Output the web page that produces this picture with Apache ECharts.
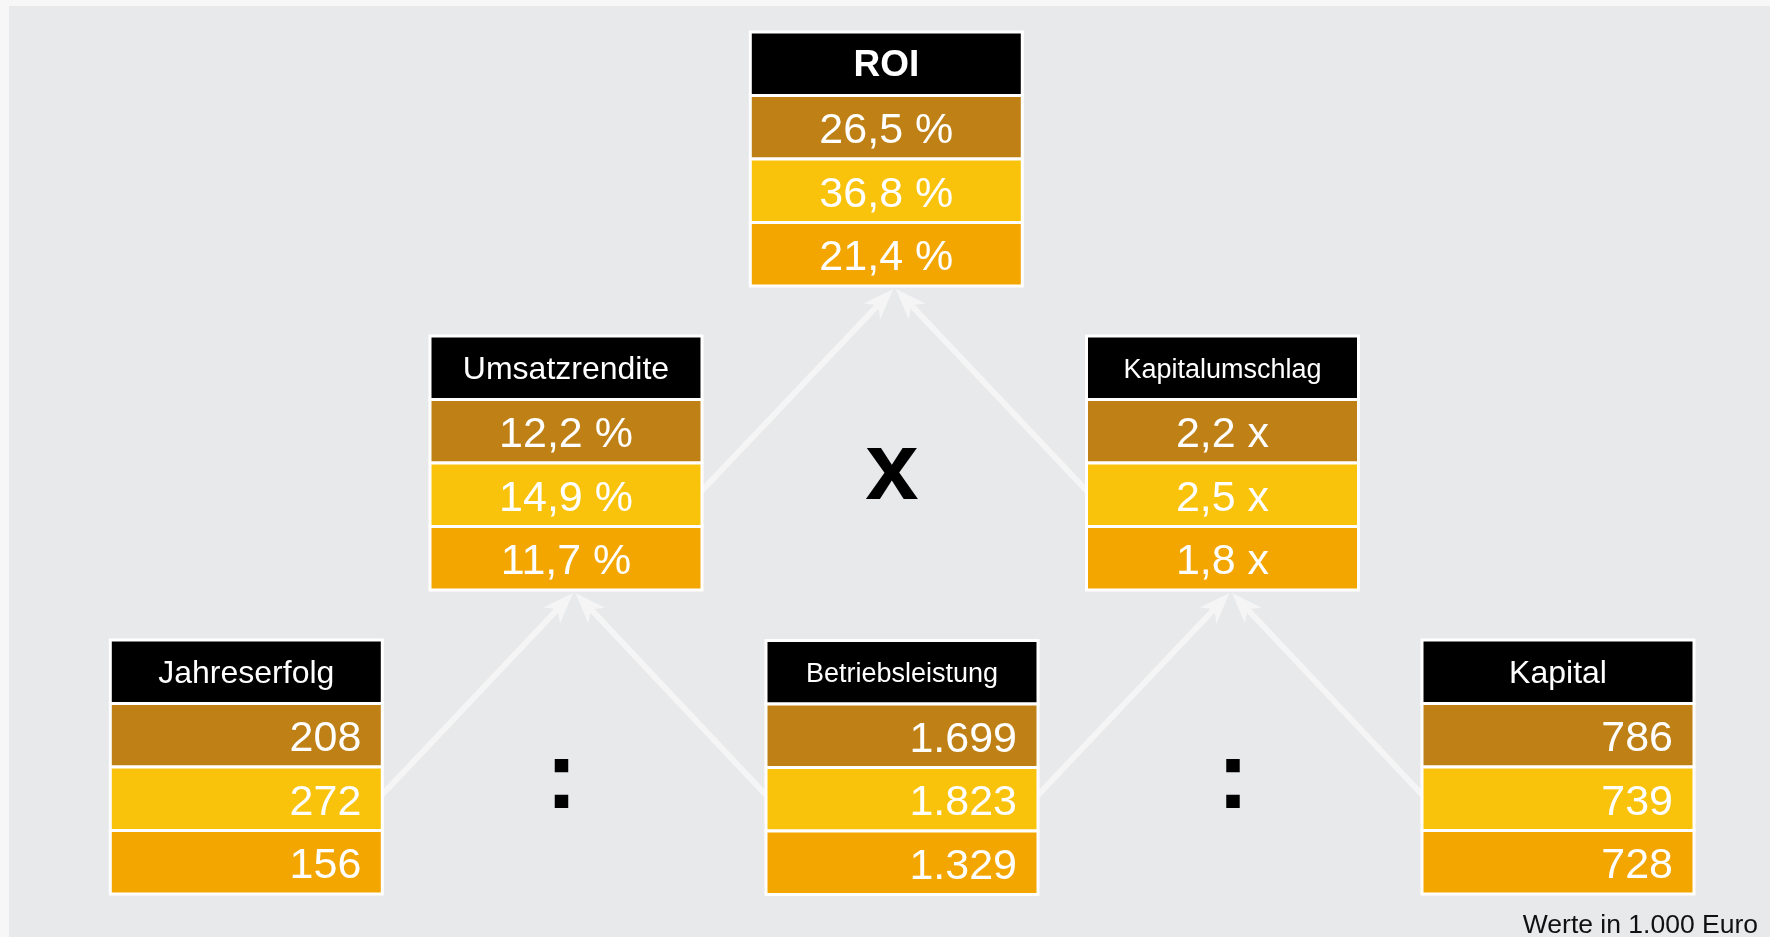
<!DOCTYPE html>
<html>
<head>
<meta charset="utf-8">
<title>ROI-Kennzahlenbaum</title>
<script src="https://cdn.jsdelivr.net/npm/echarts@6/dist/echarts.min.js"></script>
<style>
  html, body { margin: 0; padding: 0; background: #f7f7f7; }
  #main { width: 1770px; height: 937px; }
</style>
</head>
<body>
<div id="main"></div>
<script>
// Kennzahlen, je drei Perioden
var roiWerte = [26.5, 36.8, 21.4];
var umsatzrendite = [12.2, 14.9, 11.7];
var kapitalumschlag = [2.2, 2.5, 1.8];
var jahreserfolg = [208, 272, 156];
var betriebsleistung = [1699, 1823, 1329];
var kapital = [786, 739, 728];

var titel = ['ROI', 'Umsatzrendite', 'Kapitalumschlag', 'Jahreserfolg', 'Betriebsleistung', 'Kapital'];
var werte = [roiWerte, umsatzrendite, kapitalumschlag, jahreserfolg, betriebsleistung, kapital];
var einheit = ['pct', 'pct', 'x', 'int', 'int', 'int'];

// Verknuepfungen: [von, nach]
var kanten = [
  ['Umsatzrendite', 'ROI'],
  ['Kapitalumschlag', 'ROI'],
  ['Jahreserfolg', 'Umsatzrendite'],
  ['Betriebsleistung', 'Umsatzrendite'],
  ['Betriebsleistung', 'Kapitalumschlag'],
  ['Kapital', 'Kapitalumschlag']
];
var operatoren = ['x', ':', ':'];
var fussnote = 'Werte in 1.000 Euro';

// Layout (Einheiten der versteckten Achsen = Pixel)
var BOX_W = 272, CELL_H = 63.5;
var layout = {
  'ROI': { cx: 886.3, top: 32, head: 'bold 37px', align: 'center' },
  'Umsatzrendite': { cx: 566, top: 336, head: '32px', align: 'center' },
  'Kapitalumschlag': { cx: 1222.5, top: 336, head: '27px', align: 'center' },
  'Jahreserfolg': { cx: 246.3, top: 640, head: '32px', align: 'right' },
  'Betriebsleistung': { cx: 902, top: 640.5, head: '27px', align: 'right' },
  'Kapital': { cx: 1558, top: 640, head: '32px', align: 'right' }
};
var opLayout = [[892, 473], [561.5, 782], [1233, 782]];

var FONT = '"Liberation Sans", Arial, sans-serif';
var farben = ['#000000', '#bf8116', '#f9c30c', '#f4a600'];
var pfeilFarbe = '#f5f5f5';

function formatWert(v, art) {
  if (art === 'pct') return v.toFixed(1).replace('.', ',') + ' %';
  if (art === 'x') return v.toFixed(1).replace('.', ',') + ' x';
  return String(v).replace(/\B(?=(\d{3})+(?!\d))/g, '.');
}

var chart = echarts.init(document.getElementById('main'));

var option = {
  backgroundColor: '#f7f7f7',
  animation: false,
  grid: {
    left: 9, top: 6, right: 0, bottom: 0,
    show: true, backgroundColor: '#e8e9eb', borderWidth: 0
  },
  xAxis: { type: 'value', min: 9, max: 1770, show: false },
  yAxis: { type: 'value', min: 6, max: 937, inverse: true, show: false },
  graphic: [{
    type: 'text', right: 12, bottom: -2,
    style: { text: fussnote, font: '26.5px ' + FONT, fill: '#111' }
  }],
  series: [
    {
      // Pfeile
      type: 'custom',
      silent: true,
      z: 1,
      data: kanten.map(function (k, i) { return [layout[k[0]].cx, layout[k[0]].top, i]; }),
      renderItem: function (params, api) {
        var k = kanten[api.value(2)];
        var von = layout[k[0]], nach = layout[k[1]];
        var vonLinks = von.cx < nach.cx;
        var start = api.coord([von.cx + (vonLinks ? 1 : -1) * (BOX_W / 2 - 4), von.top + 2.5 * CELL_H]);
        var tip = api.coord([nach.cx + (vonLinks ? 7 : 9.5), nach.top + 4 * CELL_H + 3]);
        var dx = tip[0] - start[0], dy = tip[1] - start[1];
        var len = Math.sqrt(dx * dx + dy * dy);
        var ux = dx / len, uy = dy / len, nx = -uy, ny = ux;
        var L = 31, W = 23;
        var bx = tip[0] - L * ux, by = tip[1] - L * uy;
        var notch = [tip[0] - 0.72 * L * ux, tip[1] - 0.72 * L * uy];
        return {
          type: 'group',
          children: [{
            type: 'line',
            shape: { x1: start[0], y1: start[1], x2: notch[0] + ux * 2, y2: notch[1] + uy * 2 },
            style: { stroke: pfeilFarbe, lineWidth: 6 }
          }, {
            type: 'polygon',
            shape: { points: [tip, [bx + nx * W / 2, by + ny * W / 2], notch, [bx - nx * W / 2, by - ny * W / 2]] },
            style: { fill: pfeilFarbe }
          }]
        };
      }
    },
    {
      // Kennzahlen-Kaesten
      type: 'custom',
      silent: true,
      z: 2,
      data: titel.map(function (t, i) { return [layout[t].cx, layout[t].top, i]; }),
      renderItem: function (params, api) {
        var i = api.value(2);
        var lay = layout[titel[i]];
        var p = api.coord([lay.cx - BOX_W / 2, lay.top]);
        var s = api.size([BOX_W, CELL_H]);
        var kinder = [];
        for (var r = 0; r < 4; r++) {
          kinder.push({
            type: 'rect',
            shape: { x: p[0], y: p[1] + r * s[1], width: s[0], height: s[1] },
            style: { fill: farben[r], stroke: '#ffffff', lineWidth: 3 }
          });
        }
        kinder.push({
          type: 'text',
          style: {
            text: titel[i], x: p[0] + s[0] / 2, y: p[1] + s[1] / 2 + 2.5,
            align: 'center', verticalAlign: 'middle',
            font: lay.head + ' ' + FONT, fill: '#ffffff'
          }
        });
        for (var j = 0; j < 3; j++) {
          var rechts = lay.align === 'right';
          kinder.push({
            type: 'text',
            style: {
              text: formatWert(werte[i][j], einheit[i]),
              x: rechts ? p[0] + s[0] - 21 : p[0] + s[0] / 2,
              y: p[1] + (j + 1.5) * s[1] + 4,
              align: lay.align, verticalAlign: 'middle',
              font: '43px ' + FONT, fill: '#ffffff'
            }
          });
        }
        return { type: 'group', children: kinder };
      }
    },
    {
      // Rechenzeichen
      type: 'custom',
      silent: true,
      z: 3,
      data: operatoren.map(function (o, i) { return [opLayout[i][0], opLayout[i][1], i]; }),
      renderItem: function (params, api) {
        var p = api.coord([api.value(0), api.value(1)]);
        return {
          type: 'text',
          style: {
            text: operatoren[api.value(2)], x: p[0], y: p[1],
            align: 'center', verticalAlign: 'middle',
            font: 'bold 96px ' + FONT, fill: '#000000'
          }
        };
      }
    }
  ]
};

chart.setOption(option);
</script>
</body>
</html>
